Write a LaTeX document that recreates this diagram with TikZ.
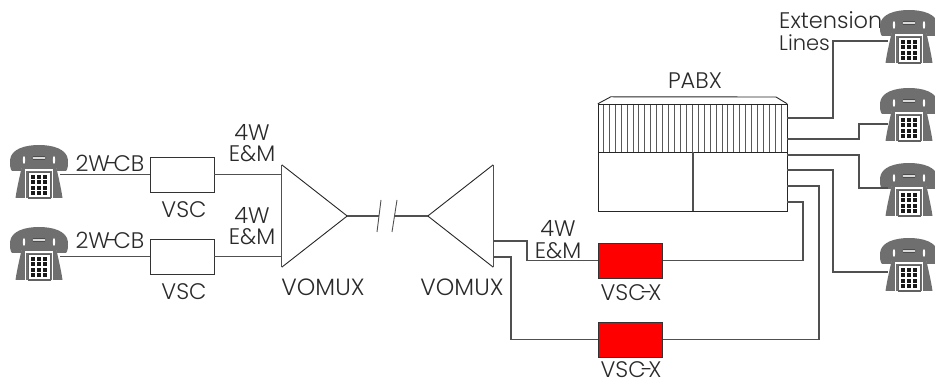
\documentclass[tikz,border=0pt]{standalone}
\usepackage{fontspec}
\setmainfont{Poppins Light}
\definecolor{phonegray}{HTML}{6F6F6F}
\definecolor{wirea}{HTML}{505050}
\definecolor{inktext}{HTML}{2A2A2A}
\tikzset{
  wire/.style={draw=wirea,line width=1.1pt,line join=miter},
  boxnode/.style={draw=black!80,line width=0.9pt,rectangle,minimum width=#1,inner sep=0pt},
  lab/.style={font=\fontsize{22.5}{24}\selectfont,text=inktext,inner sep=0pt,anchor=center},
  labl/.style={lab,anchor=west},
  outline/.style={draw=black!85,line width=0.9pt},
  muxbox/.style={rectangle,minimum width=65pt,minimum height=102pt,inner sep=0pt},
  pics/phone/.style={code={
    \fill[phonegray] (14,12) -- (44,12) .. controls (47,26) and (51,42) .. (52.5,53) -- (5.5,53) .. controls (7,42) and (11,26) .. (14,12) -- cycle;
    \fill[phonegray] (0,15) .. controls (1,4) and (15,0) .. (29,0) .. controls (43,0) and (57,4) .. (58,15)
      .. controls (58,20) and (58,24) .. (56,26) -- (47,26) .. controls (46,21) and (44,18) .. (42,15)
      -- (16,15) .. controls (14,18) and (12,21) .. (11,26) -- (2,26) .. controls (0,24) and (0,20) .. (0,15) -- cycle;
    \fill[white] (14,15) ellipse (1.2 and 4);
    \fill[white] (44,15) ellipse (1.2 and 4);
    \filldraw[fill=white!85!black,draw=black!70,line width=0.6pt,rounded corners=1.2pt] (22,11.5) rectangle (36,14.5);
    \fill[white] (15,24) rectangle (43,25.6);
    \fill[white] (14.8,25) rectangle (16,53);
    \fill[white] (42,25) rectangle (43.2,53);
    \fill[black!62] (17.5,27) rectangle (41,54);
    \fill[white] (18.5,28) rectangle (40,52.5);
    \foreach \r in {0,1,2,3} \foreach \c in {0,1,2}
      \fill[black!90] ({21+\c*6},{30+\r*5.5}) rectangle ++(4.2,3.8);
    \coordinate (-left) at (8,29);
    \coordinate (-right) at (50,29);
  }},
}
\begin{document}
\begin{tikzpicture}[x=1pt,y=-1pt]
\useasboundingbox (0,0) rectangle (935,379);
\begin{scope}
\clip (0,0) rectangle (935,379);
% labels
\node[lab] (l2wa) at (110,163) {2W\kern-4pt-\kern-4ptCB};
\node[lab] (l2wb) at (110,240) {2W\kern-4pt-\kern-4ptCB};
\node[lab] (l4a) at (252,132) {4W};
\node[lab] (lema) at (252,154) {E\&M};
\node[lab] (l4b) at (252,215) {4W};
\node[lab] (lemb) at (252,237) {E\&M};
\node[lab] (l4c) at (558,228) {4W};
\node[lab] (lemc) at (558,251) {E\&M};
\node[lab] (lvsca) at (184,210) {VSC};
\node[lab] (lvscb) at (184,292) {VSC};
\node[lab,font=\fontsize{23.5}{24}\selectfont] (lmuxa) at (323,287) {VOMUX};
\node[lab,font=\fontsize{23.5}{24}\selectfont] (lmuxb) at (462,287) {VOMUX};
\node[lab] (lxa) at (631,293) {VSC\kern-4.5pt-\kern-4.5ptX};
\node[lab] (lxb) at (631,370) {VSC\kern-4.5pt-\kern-4.5ptX};
\node[lab] (lpabx) at (695,81) {PABX};
\node[labl] (lexta) at (779,20) {Extension};
\node[labl,font=\fontsize{21}{24}\selectfont] (lextb) at (779,43) {Lines};
% phones
\pic (pa) at (10,145) {phone};
\pic (pb) at (10,227) {phone};
\pic (pc) at (880,10) {phone};
\pic (pd) at (880,88) {phone};
\pic (pe) at (880,163) {phone};
\pic (pf) at (880,238) {phone};
% boxes
\node[boxnode=64pt,minimum height=35pt] (vsca) at (182,174.5) {};
\node[boxnode=64pt,minimum height=35pt] (vscb) at (182,256.5) {};
\node[boxnode=64pt,minimum height=35pt,fill=red] (vsxa) at (630.5,260.5) {};
\node[boxnode=64pt,minimum height=35pt,fill=red] (vsxb) at (630.5,339.5) {};
% multiplexers
\node[muxbox] (muxa) at (314.5,216) {};
\node[muxbox] (muxb) at (460.5,216) {};
\draw[outline] (muxa.north west) -- (muxa.east) -- (muxa.south west);
\draw[wire] (muxa.south west) -- (muxa.north west);
\draw[outline] (muxb.north east) -- (muxb.west) -- (muxb.south east);
\draw[wire] (muxb.south east) -- (muxb.north east);
% PABX
\node[rectangle,minimum width=189pt,minimum height=107pt,inner sep=0pt] (pabx) at (692.5,157.5) {};
\coordinate (pd1) at (pabx.west |- 0,152);
\coordinate (pd2) at (pabx.east |- 0,152);
\foreach \i in {0,...,30}
  \draw[draw=black!65,line width=0.8pt] ({603.3+\i*5.93},104) -- ({603.3+\i*5.93},152);
\draw[outline] (pabx.north west) -- ++(13,-7) -- (776,97) -- (pabx.north east);
\draw[outline] (pd1) -- (pd2);
\draw[wire] (693,152) -- (693,211);
\node[draw=black!85,line width=0.9pt,rectangle,minimum width=189pt,minimum height=107pt,inner sep=0pt] at (pabx) {};
% connectors, left side
\draw[wire] (pa-right |- vsca.west) -- (vsca.west);
\draw[wire] (pb-right |- vscb.west) -- (vscb.west);
\draw[wire] (vsca.east) -- (muxa.west |- vsca.east);
\draw[wire] (vscb.east) -- (muxa.west |- vscb.east);
% trunk with break
\coordinate (brka) at (379,216);
\coordinate (brkb) at (394,216);
\draw[wire] (muxa.east) -- (brka);
\draw[wire] (brkb) -- (muxb.west);
\draw[wire,line width=0.9pt] (381,200) -- (377,232);
\draw[wire,line width=0.9pt] (397,200) -- (392,232);
% VOMUX to VSC-X
\coordinate (mo1) at (493,241);
\coordinate (mo2) at (493,257);
\draw[wire] (mo1) -- (527,241) |- (vsxa.west);
\draw[wire] (mo2) -- (511,257) |- (vsxb.west);
% PABX extensions
\coordinate (x1) at (787,118);
\coordinate (x2) at (787,139);
\coordinate (x3) at (787,155);
\coordinate (x4) at (787,170);
\coordinate (x5) at (787,186);
\coordinate (x6) at (787,202);
\coordinate (t1) at (888,41);
\coordinate (t2) at (888,124);
\coordinate (t3) at (888,188);
\coordinate (t4) at (888,272);
\draw[wire] (x1) -- (833,118) -- (833,41) -- (t1);
\draw[wire] (x2) -- (859,139) -- (859,124) -- (t2);
\draw[wire] (x3) -- (859,155) -- (859,188) -- (t3);
\draw[wire] (x4) -- (833,170) -- (833,272) -- (t4);
\draw[wire] (x5) -- (819,186) |- (vsxb.east);
\draw[wire] (x6) -- (803,202) |- (vsxa.east);
\end{scope}
\end{tikzpicture}
\end{document}
